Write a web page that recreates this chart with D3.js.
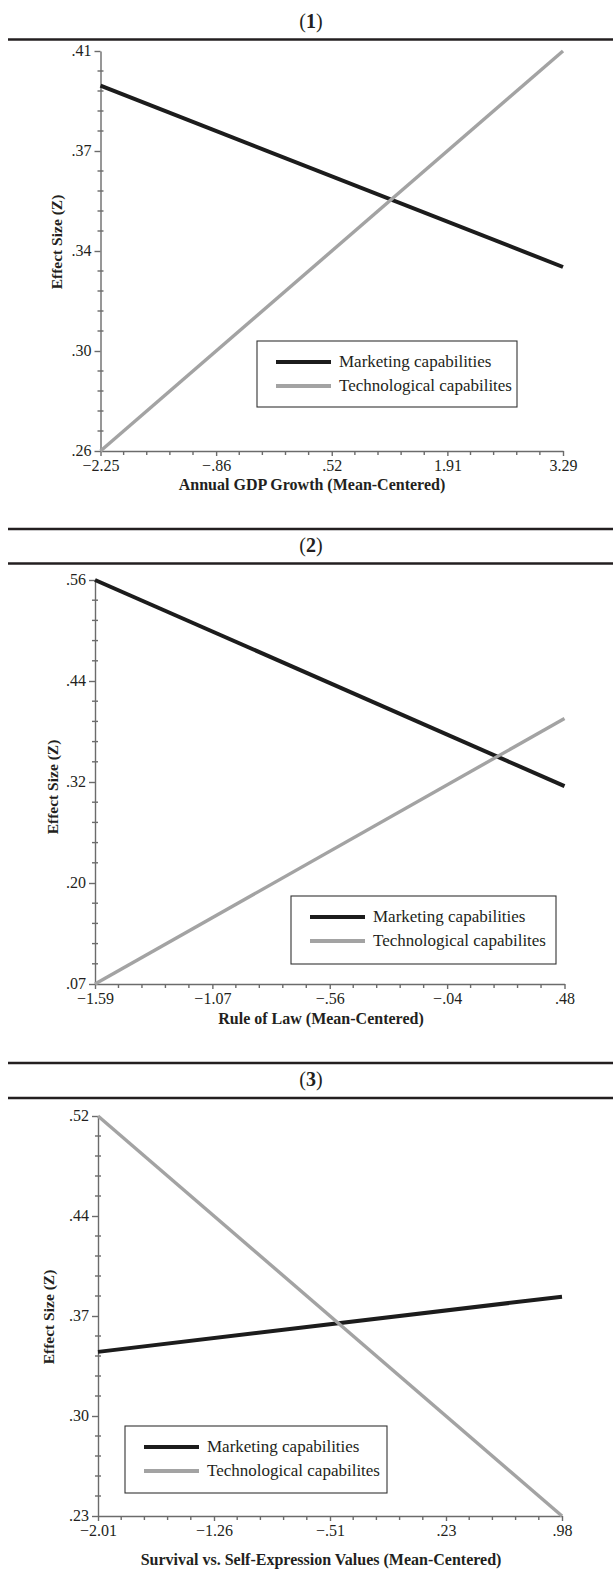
<!DOCTYPE html>
<html lang="en">
<head>
<meta charset="utf-8">
<style type="text/css">
    body { margin: 0; background: #fff; }
    text { font-family: "Liberation Serif", "Times New Roman", serif; fill: #231f20; }
    .tick_text { font-size: 16px; }
    .axis_title { font-size: 16px; font-weight: bold; }
    .ytitle { font-size: 15.5px; font-weight: bold; }
    .legend_text { font-size: 17px; }
    .head_text { font-size: 20px; }
    .axis path, .axis line { stroke: #6b6b6b; stroke-width: 1.4px; }
</style>
</head>
<body>
<div id="graph"></div>
<script src="https://cdn.jsdelivr.net/npm/d3@7"></script>
<script type="text/javascript">
    var width = 613, height = 1571;

    var seriesNames = ["Marketing capabilities", "Technological capabilites"];
    var seriesColors = ["#1c1c1c", "#a3a3a3"];
    var panelNames = ["1", "2", "3"];
    var yTitle = "Effect Size (Z)";

    // panel 1
    var p1XTitle = "Annual GDP Growth (Mean-Centered)";
    var p1XLabels = ["\u22122.25", "\u2212.86", ".52", "1.91", "3.29"];
    var p1YLabels = [".26", ".30", ".34", ".37", ".41"];
    var p1X = [-2.25, 3.29];
    var p1Marketing = [0.397, 0.329];
    var p1Tech = [0.26, 0.41];

    // panel 2
    var p2XTitle = "Rule of Law (Mean-Centered)";
    var p2XLabels = ["\u22121.59", "\u22121.07", "\u2212.56", "\u2212.04", ".48"];
    var p2YLabels = [".07", ".20", ".32", ".44", ".56"];
    var p2X = [-1.59, 0.48];
    var p2Marketing = [0.56, 0.31];
    var p2Tech = [0.07, 0.392];

    // panel 3
    var p3XTitle = "Survival vs. Self-Expression Values (Mean-Centered)";
    var p3XLabels = ["\u22122.01", "\u22121.26", "\u2212.51", ".23", ".98"];
    var p3YLabels = [".23", ".30", ".37", ".44", ".52"];
    var p3X = [-2.01, 0.98];
    var p3Marketing = [0.349, 0.389];
    var p3Tech = [0.52, 0.23];

    var panels = [
        {name: panelNames[0], xTitle: p1XTitle, xLabels: p1XLabels, yLabels: p1YLabels, xs: p1X, series: [p1Marketing, p1Tech]},
        {name: panelNames[1], xTitle: p2XTitle, xLabels: p2XLabels, yLabels: p2YLabels, xs: p2X, series: [p2Marketing, p2Tech]},
        {name: panelNames[2], xTitle: p3XTitle, xLabels: p3XLabels, yLabels: p3YLabels, xs: p3X, series: [p3Marketing, p3Tech]}
    ];

    // layout for each panel (pixels)
    var layout = [
        {left: 100.5, right: 563, top: 51, bottom: 451, headLines: [39.5], headY: 28,
         xTitleX: 312, xTitleY: 490, yTitleX: 57, yTitleY: 242,
         legend: {x: 257, y: 341, w: 260, h: 66}},
        {left: 95, right: 564.5, top: 580, bottom: 984, headLines: [529, 563.5], headY: 552,
         xTitleX: 321, xTitleY: 1024, yTitleX: 53, yTitleY: 787,
         legend: {x: 291, y: 896, w: 265, h: 68}},
        {left: 98, right: 562, top: 1116, bottom: 1516, headLines: [1063, 1098], headY: 1086,
         xTitleX: 321, xTitleY: 1565, yTitleX: 49, yTitleY: 1317,
         legend: {x: 125, y: 1426, w: 262, h: 67}}
    ];

    var svg = d3.select("#graph")
        .append("svg")
        .attr("width", width)
        .attr("height", height)
        .style("display", "block");

    panels.forEach(function(p, i) { drawPanel(p, layout[i]); });

    function drawPanel(p, L) {
        var xDom = [+p.xs[0], +p.xs[p.xs.length - 1]];
        var yDom = [+p.yLabels[0], +p.yLabels[p.yLabels.length - 1]];
        var x = d3.scaleLinear().domain(xDom).range([L.left, L.right]);
        var y = d3.scaleLinear().domain(yDom).range([L.bottom, L.top]);

        // labels sit at evenly spaced positions
        var nx = p.xLabels.length - 1, ny = p.yLabels.length - 1;
        var xMajor = d3.range(nx + 1).map(function(k) { return xDom[0] + k * (xDom[1] - xDom[0]) / nx; });
        var yMajor = d3.range(ny + 1).map(function(k) { return yDom[0] + k * (yDom[1] - yDom[0]) / ny; });
        var xMinor = [], yMinor = [];
        for (var k = 0; k < nx; k++)
            for (var m = 1; m < 5; m++) xMinor.push(xMajor[k] + m * (xMajor[k + 1] - xMajor[k]) / 5);
        for (var k = 0; k < ny; k++)
            for (var m = 1; m < 5; m++) yMinor.push(yMajor[k] + m * (yMajor[k + 1] - yMajor[k]) / 5);

        // header rules and number
        L.headLines.forEach(function(hy) {
            svg.append("line")
                .attr("x1", 8).attr("x2", width)
                .attr("y1", hy).attr("y2", hy)
                .attr("stroke", "#231f20")
                .attr("stroke-width", 2.6);
        });
        var head = svg.append("text")
            .attr("class", "head_text")
            .attr("x", 311)
            .attr("y", L.headY)
            .attr("text-anchor", "middle");
        head.append("tspan").text("(");
        head.append("tspan").attr("font-weight", "bold").text(p.name);
        head.append("tspan").text(")");

        // x axis
        var gx = svg.append("g")
            .attr("class", "axis")
            .attr("transform", "translate(0," + L.bottom + ")")
            .call(d3.axisBottom(x)
                .tickValues(xMajor)
                .tickFormat(function(d, k) { return p.xLabels[k]; })
                .tickSize(5)
                .tickSizeOuter(0)
                .tickPadding(4));
        gx.selectAll("text").attr("class", "tick_text").attr("fill", null);
        gx.selectAll(".minor")
            .data(xMinor)
            .enter()
            .append("line")
            .attr("class", "minor")
            .attr("x1", function(d) { return x(d); })
            .attr("x2", function(d) { return x(d); })
            .attr("y1", 0)
            .attr("y2", 4);

        // y axis
        var gy = svg.append("g")
            .attr("class", "axis")
            .attr("transform", "translate(" + L.left + ",0)")
            .call(d3.axisLeft(y)
                .tickValues(yMajor)
                .tickFormat(function(d, k) { return p.yLabels[k]; })
                .tickSize(6)
                .tickSizeOuter(0)
                .tickPadding(3));
        gy.selectAll("text").attr("class", "tick_text").attr("fill", null).attr("dy", "0.25em");
        gy.selectAll(".minor")
            .data(yMinor)
            .enter()
            .append("line")
            .attr("class", "minor")
            .attr("x1", -3)
            .attr("x2", 3)
            .attr("y1", function(d) { return y(d); })
            .attr("y2", function(d) { return y(d); });

        // axis titles
        svg.append("text")
            .attr("class", "axis_title")
            .attr("x", L.xTitleX)
            .attr("y", L.xTitleY)
            .attr("text-anchor", "middle")
            .text(p.xTitle);
        svg.append("text")
            .attr("class", "ytitle")
            .attr("transform", "translate(" + L.yTitleX + "," + L.yTitleY + ") rotate(-90)")
            .attr("dy", "0.35em")
            .attr("text-anchor", "middle")
            .text(yTitle);

        // lines
        var line = d3.line()
            .x(function(d) { return x(d[0]); })
            .y(function(d) { return y(d[1]); });
        p.series.forEach(function(vals, s) {
            svg.append("path")
                .datum(p.xs.map(function(xv, j) { return [xv, vals[j]]; }))
                .attr("fill", "none")
                .attr("stroke", seriesColors[s])
                .attr("stroke-width", s == 0 ? 4 : 3.4)
                .attr("d", line);
        });

        // legend
        var lg = svg.append("g")
            .attr("transform", "translate(" + L.legend.x + "," + L.legend.y + ")");
        lg.append("rect")
            .attr("width", L.legend.w)
            .attr("height", L.legend.h)
            .attr("fill", "#fff")
            .attr("stroke", "#333")
            .attr("stroke-width", 1.1);
        seriesNames.forEach(function(nm, s) {
            var ly = 21 + s * 24;
            lg.append("line")
                .attr("x1", 19).attr("x2", 74)
                .attr("y1", ly).attr("y2", ly)
                .attr("stroke", seriesColors[s])
                .attr("stroke-width", 4);
            lg.append("text")
                .attr("class", "legend_text")
                .attr("x", 82)
                .attr("y", ly + 5)
                .text(nm);
        });
    }
</script>
</body>
</html>
